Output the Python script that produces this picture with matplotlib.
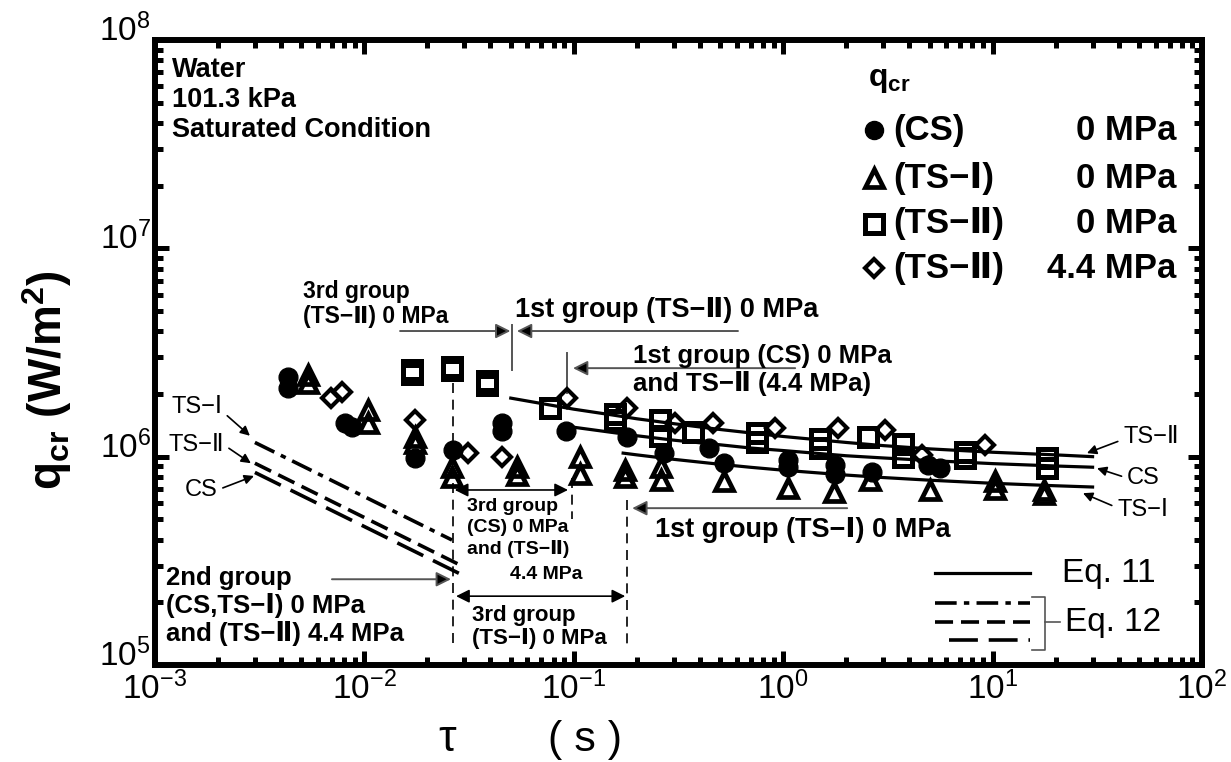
import matplotlib
matplotlib.use('Agg')
import matplotlib.pyplot as plt
import matplotlib.transforms as mtransforms

# ------------------------------------------------------------------------------
# Data: transient critical heat flux, period tau (s) vs q_cr (W/m2)
# ------------------------------------------------------------------------------
tau_cs = [0.0043, 0.0043, 0.0081, 0.0087, 0.0175, 0.0265, 0.0454, 0.0454,
          0.092, 0.18, 0.27, 0.44, 0.52, 1.05, 1.05, 1.77, 1.77, 2.65, 4.9, 5.6]
q_cs = [2.41e6, 2.13e6, 1.45e6, 1.39e6, 9.8e5, 1.08e6, 1.45e6, 1.33e6,
        1.33e6, 1.24e6, 1.04e6, 1.10e6, 9.3e5, 9.6e5, 8.9e5, 9.1e5, 8.3e5,
        8.4e5, 9.1e5, 8.8e5]

tau_ts1 = [0.0054, 0.0054, 0.0104, 0.0104, 0.0175, 0.0175, 0.0262, 0.0262,
           0.0536, 0.0536, 0.107, 0.107, 0.176, 0.176, 0.26, 0.26, 0.52,
           1.05, 1.75, 2.6, 5.0, 10.3, 10.3, 17.5, 17.5]
q_ts1 = [2.47e6, 2.25e6, 1.67e6, 1.45e6, 1.24e6, 1.16e6, 8.9e5, 8.0e5,
         8.9e5, 8.2e5, 9.96e5, 8.3e5, 8.6e5, 8.0e5, 8.9e5, 7.7e5, 7.6e5,
         7.1e5, 6.8e5, 7.7e5, 6.9e5, 7.6e5, 7.0e5, 6.9e5, 6.6e5]

tau_ts2 = [0.0168, 0.0168, 0.0262, 0.0262, 0.0385, 0.0385, 0.077, 0.157,
           0.157, 0.258, 0.258, 0.37, 0.75, 0.75, 1.50, 1.50, 2.54, 3.73,
           3.73, 7.4, 7.4, 18.2, 18.2]
q_ts2 = [2.6e6, 2.5e6, 2.7e6, 2.6e6, 2.3e6, 2.2e6, 1.71e6, 1.6e6, 1.5e6,
         1.5e6, 1.25e6, 1.31e6, 1.3e6, 1.18e6, 1.22e6, 1.1e6, 1.24e6,
         1.15e6, 1.0e6, 1.05e6, 9.8e5, 9.8e5, 8.8e5]

tau_ts2_44 = [0.0069, 0.0078, 0.0175, 0.0313, 0.0454, 0.093, 0.18, 0.304,
              0.462, 0.914, 1.83, 3.06, 4.6, 9.2]
q_ts2_44 = [1.91e6, 2.04e6, 1.50e6, 1.04e6, 9.95e5, 1.91e6, 1.71e6, 1.45e6,
            1.45e6, 1.37e6, 1.37e6, 1.34e6, 1.02e6, 1.14e6]

# Eq. 11 (1st group)
tau_e11_ts2 = [0.05, 0.07, 0.1, 0.15, 0.2, 0.3, 0.5, 0.7, 1, 2, 3, 5, 10, 20, 30]
q_e11_ts2 = [1.91e6, 1.80e6, 1.69e6, 1.59e6, 1.52e6, 1.44e6, 1.35e6, 1.30e6,
             1.25e6, 1.17e6, 1.13e6, 1.09e6, 1.05e6, 1.02e6, 1.00e6]
tau_e11_cs = [0.092, 0.15, 0.2, 0.3, 0.5, 0.7, 1, 2, 3, 5, 10, 20, 30]
q_e11_cs = [1.40e6, 1.31e6, 1.26e6, 1.20e6, 1.14e6, 1.10e6, 1.07e6, 1.01e6,
            9.86e5, 9.58e5, 9.26e5, 9.02e5, 8.90e5]
tau_e11_ts1 = [0.172, 0.2, 0.3, 0.5, 0.7, 1, 2, 3, 5, 10, 20, 30]
q_e11_ts1 = [1.04e6, 1.02e6, 9.71e5, 9.19e5, 8.89e5, 8.61e5, 8.16e5, 7.94e5,
             7.71e5, 7.45e5, 7.25e5, 7.15e5]

# Eq. 12 (2nd group)
tau_e12_ts1 = [0.003, 0.0262]
q_e12_ts1 = [1.17e6, 3.98e5]
tau_e12_ts2 = [0.003, 0.029]
q_e12_ts2 = [9.3e5, 3.0e5]
tau_e12_cs = [0.003, 0.029]
q_e12_cs = [8.4e5, 2.72e5]

# ------------------------------------------------------------------------------
# Plotting
# ------------------------------------------------------------------------------
plt.rcParams['font.family'] = ['Liberation Sans', 'DejaVu Sans']
plt.rcParams['mathtext.fontset'] = 'custom'
plt.rcParams['mathtext.rm'] = 'Liberation Sans'

fig = plt.figure(figsize=(12.31, 7.62), dpi=100)
ax = fig.add_axes([0.1259, 0.1273, 0.8506, 0.8202])
ax.set_xscale('log')
ax.set_yscale('log')
ax.set_xlim(1e-3, 1e2)
ax.set_ylim(1e5, 1e8)

for s in ax.spines.values():
    s.set_linewidth(4.3)
ax.tick_params(which='both', direction='in', top=True, right=True, labelsize=24)
ax.tick_params(which='major', length=10, width=3.6)
ax.tick_params(axis='x', which='major', pad=5)
ax.tick_params(axis='y', which='major', pad=3)
ax.tick_params(which='minor', length=5.8, width=3.6)

# lift the decade labels on the y axis a little
shift = mtransforms.ScaledTranslation(0, 9 / 72, fig.dpi_scale_trans)
for lbl in ax.get_yticklabels():
    lbl.set_transform(lbl.get_transform() + shift)

# Eq. 11 curves
for t, q in [(tau_e11_ts2, q_e11_ts2), (tau_e11_cs, q_e11_cs),
             (tau_e11_ts1, q_e11_ts1)]:
    ax.plot(t, q, color='black', lw=2.3, zorder=2)

# Eq. 12 lines
ax.plot(tau_e12_ts1, q_e12_ts1, color='black', lw=2.6, dashes=(6, 2, 1.5, 2), zorder=2)
ax.plot(tau_e12_ts2, q_e12_ts2, color='black', lw=2.6, dashes=(5, 2.2), zorder=2)
ax.plot(tau_e12_cs, q_e12_cs, color='black', lw=2.6, dashes=(8, 3), zorder=2)

# measured points
mk = dict(ls='none', zorder=3)
ax.plot(tau_cs, q_cs, marker='o', ms=13.5, color='black', **mk)
ax.plot(tau_ts1, q_ts1, marker='^', ms=12.5, mfc='none', mec='black', mew=3.4, **mk)
ax.plot(tau_ts2, q_ts2, marker='s', ms=13.5, mfc='none', mec='black', mew=3.6, **mk)
ax.plot(tau_ts2_44, q_ts2_44, marker='D', ms=9.5, mfc='none', mec='black', mew=3, **mk)

# group boundaries
ax.plot([0.0507, 0.0507], [4.28e6, 2.61e6], color='#555555', lw=1.4)
ax.plot([0.0928, 0.0928], [3.14e6, 2.02e6], color='#555555', lw=1.4)
ax.plot([0.0265, 0.0265], [2.25e6, 1.24e5], color='black', lw=1.2, dashes=(6, 4))
ax.plot([0.098, 0.098], [7.9e5, 5.0e5], color='black', lw=1.2, dashes=(6, 4))
ax.plot([0.1795, 0.1795], [6.2e5, 1.24e5], color='black', lw=1.2, dashes=(6, 4))

garrow = dict(arrowstyle='-|>', ec='#555555', fc='black', lw=1.4,
              mutation_scale=22, shrinkA=0, shrinkB=0)
darrow = dict(arrowstyle='<|-|>', color='black', lw=1.2, mutation_scale=20,
              shrinkA=0, shrinkB=0)
for tip, tail in [((0.0498, 4.01e6), (0.0148, 4.01e6)),
                  ((0.0535, 4.01e6), (0.608, 4.01e6)),
                  ((0.0991, 2.66e6), (1.14, 2.66e6)),
                  ((0.190, 5.66e5), (2.02, 5.66e5)),
                  ((0.0259, 2.58e5), (0.0070, 2.58e5))]:
    ax.annotate('', xy=tip, xytext=tail, arrowprops=garrow)
ax.annotate('', xy=(0.0938, 6.92e5), xytext=(0.0270, 6.92e5), arrowprops=darrow)
ax.annotate('', xy=(0.176, 2.14e5), xytext=(0.0274, 2.14e5), arrowprops=darrow)

# group labels
bold = dict(fontweight='bold', va='center', ha='left')
ax.text(0.00509, 5.41e6, '3rd group\n(TS−Ⅱ) 0 MPa', fontsize=16.5, linespacing=1.15, **bold)
ax.text(0.0524, 5.06e6, '1st group (TS−Ⅱ) 0 MPa', fontsize=19.5, **bold)
ax.text(0.192, 2.61e6, '1st group (CS) 0 MPa\nand TS−Ⅱ (4.4 MPa)', fontsize=18.5,
        linespacing=1.15, **bold)
ax.text(0.0309, 4.54e5, '3rd group\n(CS) 0 MPa\nand (TS−Ⅱ)', fontsize=14,
        linespacing=1.3, **bold)
ax.text(0.0496, 2.71e5, '4.4 MPa', fontsize=14, **bold)
ax.text(0.244, 4.45e5, '1st group (TS−Ⅰ) 0 MPa', fontsize=19.5, **bold)
ax.text(0.00113, 1.92e5, '2nd group\n(CS,TS−Ⅰ) 0 MPa\nand (TS−Ⅱ) 4.4 MPa', fontsize=18.5,
        linespacing=1.17, **bold)
ax.text(0.0327, 1.52e5, '3rd group\n(TS−Ⅰ) 0 MPa', fontsize=16, linespacing=1.1, **bold)

# curve labels
carrow = dict(arrowstyle='-|>', color='black', lw=1.2, mutation_scale=14,
              shrinkA=2, shrinkB=0)
for lab, tip, pos, rel in [('TS−Ⅱ', (28.2, 1.04e6), (42.0, 1.24e6), (0, 0.4)),
                           ('CS', (31.5, 8.8e5), (43.8, 7.9e5), (0, 0.5)),
                           ('TS−Ⅰ', (27.0, 6.68e5), (39.3, 5.55e5), (0, 0.6))]:
    ax.annotate(lab, xy=tip, xytext=pos, ha='left', va='center', fontsize=17,
                arrowprops=dict(relpos=rel, **carrow))
for lab, tip, pos, rel in [('TS−Ⅰ', (2.84e-3, 1.26e6), (1.585e-3, 1.73e6), (1, 0.3)),
                           ('TS−Ⅱ', (2.87e-3, 9.3e5), (1.57e-3, 1.14e6), (1, 0.5)),
                           ('CS', (2.97e-3, 8.08e5), (1.66e-3, 6.92e5), (1, 0.5))]:
    ax.annotate(lab, xy=tip, xytext=pos, ha='center', va='center', fontsize=17,
                arrowprops=dict(relpos=rel, **carrow))

# condition
ax.text(0.016, 0.904, 'Water\n101.3 kPa\nSaturated Condition', transform=ax.transAxes,
        fontsize=19.5, linespacing=1.2, fontweight='bold', va='center', ha='left')

# symbol key
ax.text(0.681, 0.936, r'$\mathdefault{q_{cr}}$', transform=ax.transAxes,
        fontsize=23, fontweight='bold', va='center', ha='left')
keys = [('o', dict(color='black'), '(CS)', '0 MPa'),
        ('^', dict(mfc='none', mec='black', mew=3.4), '(TS−Ⅰ)', '0 MPa'),
        ('s', dict(mfc='none', mec='black', mew=3.6), '(TS−Ⅱ)', '0 MPa'),
        ('D', dict(mfc='none', mec='black', mew=3), '(TS−Ⅱ)', '4.4 MPa')]
key_y = [0.856, 0.779, 0.706, 0.635]
key_ms = {'o': 13, '^': 12.5, 's': 13.5, 'D': 9.5}
for (m, style, name, press), y in zip(keys, key_y):
    ax.plot([0.687], [y], marker=m, ms=key_ms[m], ls='none',
            transform=ax.transAxes, clip_on=False, **style)
    ax.text(0.705, y, name, transform=ax.transAxes, fontsize=25,
            fontweight='bold', va='center', ha='left')
    ax.text(0.975, y, press, transform=ax.transAxes, fontsize=25,
            fontweight='bold', va='center', ha='right')

# equation key
ax.plot([0.745, 0.836], [0.147, 0.147], color='black', lw=2.3, transform=ax.transAxes)
ax.text(0.866, 0.147, 'Eq. 11', transform=ax.transAxes, fontsize=24, va='center')
ax.plot([0.745, 0.836], [0.099, 0.099], color='black', lw=2.6,
        dashes=(6, 2, 1.5, 2), transform=ax.transAxes)
ax.plot([0.745, 0.836], [0.068, 0.068], color='black', lw=2.6,
        dashes=(5, 2.2), transform=ax.transAxes)
ax.plot([0.758, 0.836], [0.040, 0.040], color='black', lw=2.6,
        dashes=(8, 3), transform=ax.transAxes)
ax.plot([0.838, 0.850, 0.850, 0.838], [0.109, 0.109, 0.024, 0.024],
        color='#555555', lw=1.2, transform=ax.transAxes)
ax.plot([0.850, 0.864], [0.068, 0.068], color='#555555', lw=1.2,
        transform=ax.transAxes)
ax.text(0.869, 0.068, 'Eq. 12', transform=ax.transAxes, fontsize=24, va='center')

ax.set_ylabel(r'$\mathdefault{q_{cr}}$ (W/m$^{\mathdefault{2}}$)', fontsize=33,
              fontweight='bold')
ax.yaxis.set_label_coords(-0.077, 0.456)
ax.text(0.279, -0.12, 'τ', transform=ax.transAxes, fontsize=32,
        ha='center', va='center')
ax.text(0.411, -0.12, '( s )', transform=ax.transAxes, fontsize=31,
        ha='center', va='center')

plt.savefig('out.png', dpi=100)
